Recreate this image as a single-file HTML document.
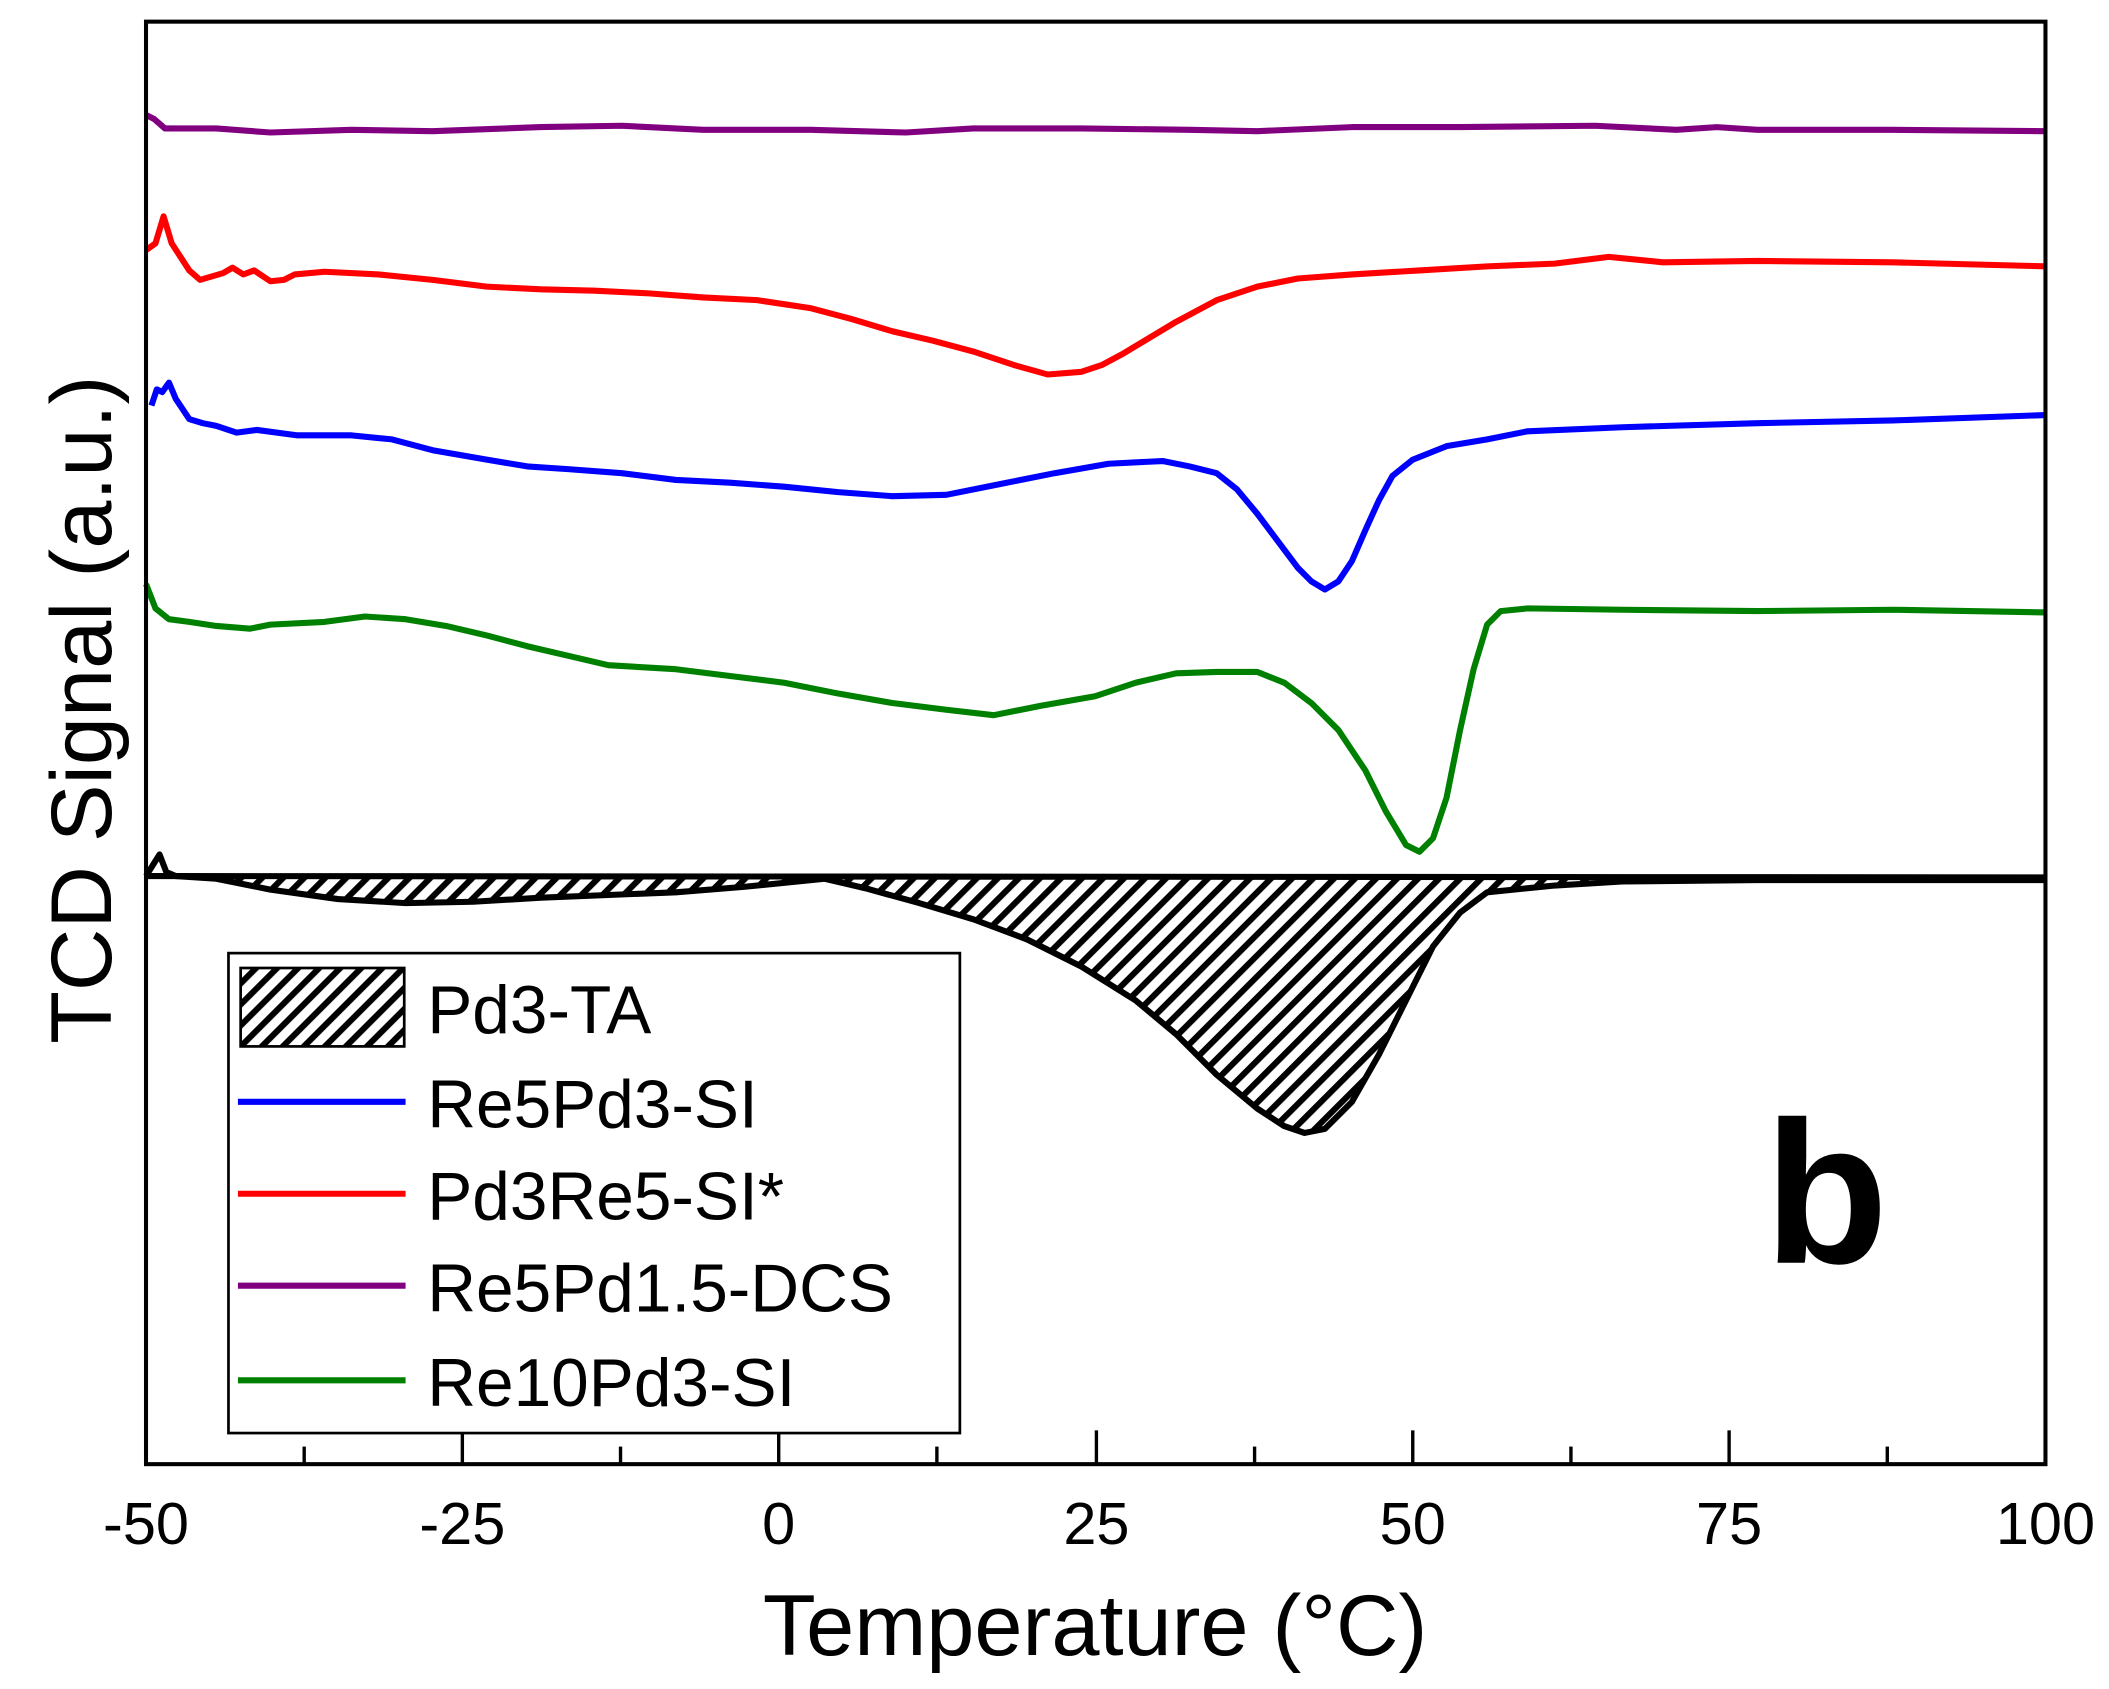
<!DOCTYPE html>
<html><head><meta charset="utf-8"><style>
html,body{margin:0;padding:0;background:#fff;}
svg{display:block;}
text{font-family:"Liberation Sans",Arial,sans-serif;fill:#000;}
</style></head><body>
<svg width="2109" height="1689" viewBox="0 0 1560 1249.3" xmlns="http://www.w3.org/2000/svg">
<defs>
<pattern id="h" patternUnits="userSpaceOnUse" width="11" height="11" patternTransform="rotate(45)">
<rect width="11" height="11" fill="#fff"/>
<rect x="0" y="0" width="4.5" height="11" fill="#000"/>
</pattern>
</defs>
<path d="M130,648 L160,650 L200,658 L250,665 L300,668 L350,667 L400,664 L450,662 L500,660 L550,656 L590,652 L610,650 L640,657 L680,668 L720,680 L760,695 L800,715 L840,740 L870,765 L900,795 L930,820 L950,833 L965,838 L980,835 L1000,815 L1020,780 L1040,740 L1060,700 L1080,675 L1100,660 L1150,655 L1200,652 L1300,651 L1400,651 L1513,650 L1513,649 L130,649 Z" fill="url(#h)" stroke="none"/>
<g fill="none" stroke-width="4.5" stroke-linejoin="round">
<path stroke="#000" d="M108,648 L130,648 L1513,649"/>
<path stroke="#000" d="M108,648 L113,640 L118,632 L123,645 L130,648 L160,650 L200,658 L250,665 L300,668 L350,667 L400,664 L450,662 L500,660 L550,656 L590,652 L610,650 L640,657 L680,668 L720,680 L760,695 L800,715 L840,740 L870,765 L900,795 L930,820 L950,833 L965,838 L980,835 L1000,815 L1020,780 L1040,740 L1060,700 L1080,675 L1100,660 L1150,655 L1200,652 L1300,651 L1400,651 L1513,651"/>
<path stroke="#800080" d="M108,85 L114,88 L122,95 L160,95 L200,98 L260,96 L320,97 L400,94 L460,93 L520,96 L600,96 L670,98 L720,95 L800,95 L880,96 L930,97 L1000,94 L1080,94 L1180,93 L1240,96 L1270,94 L1300,96 L1400,96 L1513,97"/>
<path stroke="#ff0000" d="M108,185 L115,180 L121,160 L127,180 L140,200 L148,207 L165,202 L172,198 L180,203 L188,200 L200,208 L210,207 L218,203 L240,201 L280,203 L320,207 L360,212 L400,214 L440,215 L480,217 L520,220 L560,222 L600,228 L630,236 L660,245 L690,252 L720,260 L750,270 L775,277 L800,275 L815,270 L830,262 L850,250 L870,238 L900,222 L930,212 L960,206 L1000,203 L1050,200 L1100,197 L1150,195 L1190,190 L1230,194 L1300,193 L1400,194 L1513,197"/>
<path stroke="#0000ff" d="M112,300 L116,288 L120,290 L125,283 L130,295 L140,310 L150,313 L160,315 L175,320 L190,318 L220,322 L260,322 L290,325 L320,333 L360,340 L390,345 L420,347 L460,350 L500,355 L540,357 L580,360 L620,364 L660,367 L700,366 L740,358 L780,350 L820,343 L860,341 L880,345 L900,350 L915,362 L930,380 L945,400 L960,420 L970,430 L980,436 L990,430 L1000,415 L1010,392 L1020,370 L1030,352 L1045,340 L1070,330 L1100,325 L1130,319 L1200,316 L1300,313 L1400,311 L1513,307"/>
<path stroke="#008000" d="M108,432 L115,450 L125,458 L140,460 L160,463 L185,465 L200,462 L240,460 L270,456 L300,458 L330,463 L360,470 L390,478 L420,485 L450,492 L500,495 L540,500 L580,505 L620,513 L660,520 L700,525 L735,529 L770,522 L810,515 L840,505 L870,498 L900,497 L930,497 L950,505 L970,520 L990,540 L1010,570 L1025,600 L1040,625 L1050,630 L1060,620 L1070,590 L1080,540 L1090,495 L1100,462 L1110,452 L1130,450 L1200,451 L1300,452 L1400,451 L1513,453"/>
</g>
<rect x="108" y="16" width="1405" height="1067" fill="none" stroke="#000" stroke-width="3"/>
<g stroke="#000" stroke-width="2.5">
<line x1="342" y1="1083" x2="342" y2="1058"/><line x1="576" y1="1083" x2="576" y2="1058"/><line x1="811" y1="1083" x2="811" y2="1058"/><line x1="1045" y1="1083" x2="1045" y2="1058"/><line x1="1279" y1="1083" x2="1279" y2="1058"/>
<line x1="225" y1="1083" x2="225" y2="1070"/><line x1="459" y1="1083" x2="459" y2="1070"/><line x1="693" y1="1083" x2="693" y2="1070"/><line x1="928" y1="1083" x2="928" y2="1070"/><line x1="1162" y1="1083" x2="1162" y2="1070"/><line x1="1396" y1="1083" x2="1396" y2="1070"/>
</g>
<g font-size="44" text-anchor="middle">
<text x="108" y="1142">-50</text><text x="342" y="1142">-25</text><text x="576" y="1142">0</text><text x="811" y="1142">25</text><text x="1045" y="1142">50</text><text x="1279" y="1142">75</text><text x="1513" y="1142">100</text>
</g>
<text x="810" y="1224" font-size="64" text-anchor="middle">Temperature (°C)</text>
<text transform="translate(82,525) rotate(-90)" font-size="64" text-anchor="middle">TCD Signal (a.u.)</text>
<rect x="169" y="705" width="541" height="355" fill="#fff" stroke="#000" stroke-width="2"/>
<rect x="178" y="716" width="121" height="58" fill="url(#h)" stroke="#000" stroke-width="2"/>
<g stroke-width="4.5">
<line x1="176" y1="815" x2="300" y2="815" stroke="#0000ff"/>
<line x1="176" y1="883" x2="300" y2="883" stroke="#ff0000"/>
<line x1="176" y1="951" x2="300" y2="951" stroke="#800080"/>
<line x1="176" y1="1021" x2="300" y2="1021" stroke="#008000"/>
</g>
<g font-size="50">
<text x="316" y="764">Pd3-TA</text>
<text x="316" y="834">Re5Pd3-SI</text>
<text x="316" y="902">Pd3Re5-SI*</text>
<text x="316" y="970">Re5Pd1.5-DCS</text>
<text x="316" y="1040">Re10Pd3-SI</text>
</g>
<text x="1305" y="934" font-size="150" font-weight="bold">b</text>
</svg>
</body></html>
